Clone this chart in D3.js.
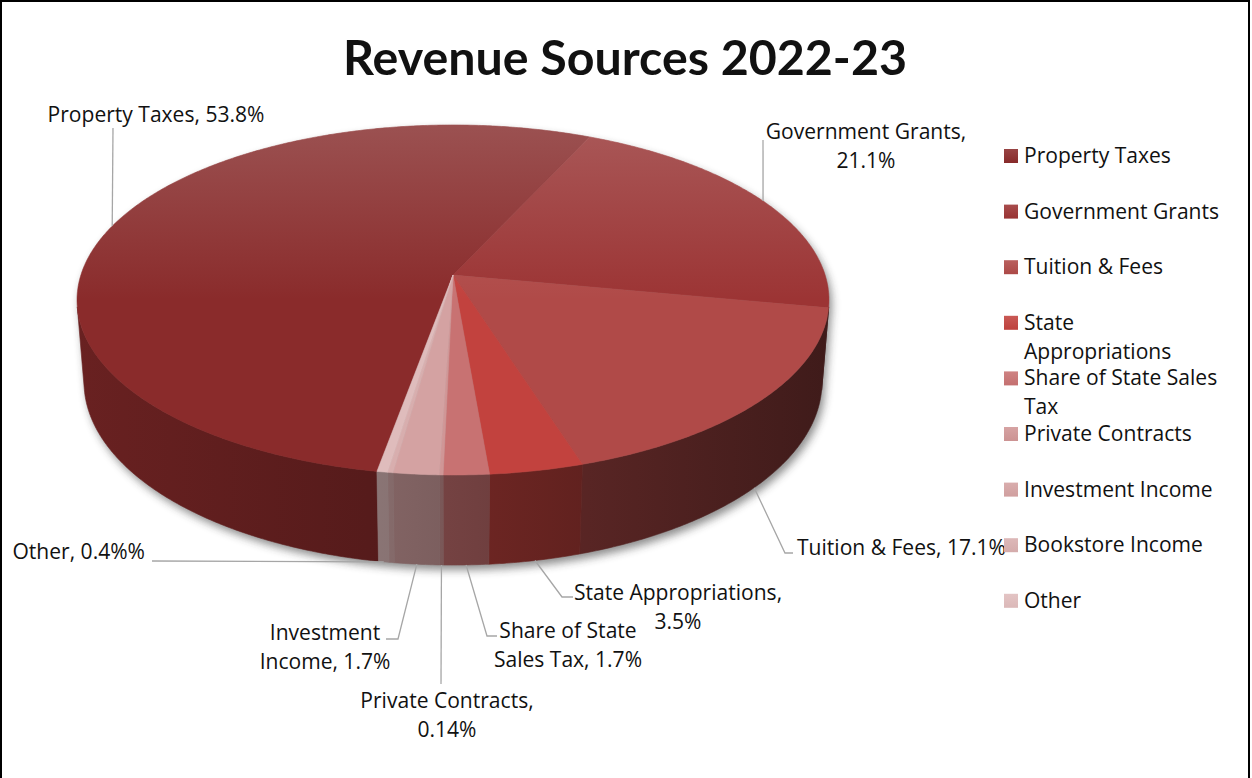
<!DOCTYPE html>
<html>
<head>
<meta charset="utf-8">
<script src="https://cdn.jsdelivr.net/npm/d3@7"></script>
<style>
  body { margin: 0; background: #fff; }
  svg { display: block; }
  text { font-family: "Open Sans", Lato, sans-serif; fill: #111; }
  text.title { font-family: Lato, "Open Sans", sans-serif; }
</style>
</head>
<body>
<svg id="chart" width="1252" height="778"></svg>
<script>
// ---- data ----
const categories = ["Property Taxes", "Government Grants", "Tuition & Fees", "State Appropriations",
  "Share of State Sales Tax", "Private Contracts", "Investment Income", "Bookstore Income", "Other"];
const shares = [53.8, 21.1, 17.1, 3.5, 1.7, 0.14, 1.7, 0.2, 0.4];
const labelTexts = [
  ["Property Taxes, 53.8%"],
  ["Government Grants,", "21.1%"],
  ["Tuition & Fees, 17.1%"],
  ["State Appropriations,", "3.5%"],
  ["Share of State", "Sales Tax, 1.7%"],
  ["Private Contracts,", "0.14%"],
  ["Investment", "Income, 1.7%"],
  null,
  ["Other, 0.4%%"]
];
const legendLines = [["Property Taxes"], ["Government Grants"], ["Tuition & Fees"], ["State", "Appropriations"],
  ["Share of State Sales", "Tax"], ["Private Contracts"], ["Investment Income"], ["Bookstore Income"], ["Other"]];
const titleText = "Revenue Sources 2022-23";

// ---- styles ----
const palette = ["#8a2b2b", "#9c3434", "#b04a48", "#c2423e", "#c87272", "#d09696", "#d4a2a2", "#d8aeae", "#dfbcbc"];

// label placement: text anchor, x, first baseline, leader path after the slice anchor
const labelLayout = [
  { anchor: "middle", x: 156, y: 122, path: [[113, 128]] },
  { anchor: "middle", x: 866, y: 139, path: [[763, 140]] },
  { anchor: "start",  x: 797, y: 555, path: [[785, 553], [793, 553]] },
  { anchor: "middle", x: 678, y: 600, path: [[562, 597], [573, 597]] },
  { anchor: "middle", x: 568, y: 638, path: [[487, 636], [497, 636]] },
  { anchor: "middle", x: 447, y: 708, path: [[441, 684]] },
  { anchor: "middle", x: 325, y: 640, path: [[398, 639], [386, 639]] },
  null,
  { anchor: "end",    x: 145, y: 559, path: [[152, 561]] }
];

const svg = d3.select("#chart");
const defs = svg.append("defs");

// body text size chosen so the longest one-line label spans 217px
const probe = svg.append("text").attr("font-size", 20).text(labelTexts[0][0]);
const FONT = 20 * 217 / probe.node().getComputedTextLength();
probe.remove();

// ---- 3D projection of a unit-radius disc seen from above at an angle ----
const cx = 453, cy = 275, FOCAL = 2312, DIST = 6.213;
const COS = 0.8876, SIN = 0.4607, THICK = 0.25;
function project(a, yw) {
  const x = Math.sin(a), z = -Math.cos(a);
  const depth = DIST - SIN * yw - COS * z;
  return [cx + FOCAL * x / depth, cy + FOCAL * (SIN * z - COS * yw) / depth];
}
function arcPts(a0, a1, yw) {
  const n = Math.max(2, Math.ceil(Math.abs(a1 - a0) / (Math.PI / 360)));
  return d3.range(n + 1).map(i => project(a0 + (a1 - a0) * i / n, yw));
}
const line = d3.line();

const total = d3.sum(shares);
const rot = 24.5 * Math.PI / 180 - shares[0] / total * 2 * Math.PI;
const arcs = d3.pie().sort(null).startAngle(rot).endAngle(rot + 2 * Math.PI)(shares);

// outer wall faces the viewer where cos(a) < -1/(DIST*COS)
const vis0 = Math.acos(-1 / (DIST * COS)), vis1 = 2 * Math.PI - vis0;
function visibleParts(s, e) {
  const out = [];
  for (const k of [-1, 0, 1]) {
    const a = Math.max(s, vis0 + 2 * Math.PI * k), b = Math.min(e, vis1 + 2 * Math.PI * k);
    if (b > a) out.push([a, b]);
  }
  return out;
}

function scaleColor(c, k) {
  const r = d3.rgb(c);
  return d3.rgb(r.r * k, r.g * k, r.b * k).formatHex();
}

// ---- gradients ----
palette.forEach((c, i) => {
  const g = defs.append("linearGradient").attr("id", "wall" + i)
    .attr("gradientUnits", "userSpaceOnUse").attr("x1", 77).attr("x2", 829).attr("y1", 0).attr("y2", 0);
  g.append("stop").attr("offset", 0).attr("stop-color", scaleColor(c, 0.76));
  g.append("stop").attr("offset", 0.45).attr("stop-color", scaleColor(c, 0.6));
  g.append("stop").attr("offset", 1).attr("stop-color", scaleColor(c, 0.36));
  const lg = defs.append("linearGradient").attr("id", "leg" + i).attr("x1", 0).attr("x2", 0).attr("y1", 0).attr("y2", 1);
  lg.append("stop").attr("offset", 0).attr("stop-color", d3.interpolateRgb(c, "#ffffff")(0.12));
  lg.append("stop").attr("offset", 1).attr("stop-color", d3.interpolateRgb(c, "#000000")(0.02));
});
const sheen = defs.append("linearGradient").attr("id", "sheen")
  .attr("gradientUnits", "userSpaceOnUse").attr("x1", 0).attr("x2", 0).attr("y1", 125).attr("y2", 300);
sheen.append("stop").attr("offset", 0).attr("stop-color", "#d8d8d8").attr("stop-opacity", 0.22);
sheen.append("stop").attr("offset", 1).attr("stop-color", "#d8d8d8").attr("stop-opacity", 0);
const blur = defs.append("filter").attr("id", "shadow").attr("x", "-10%").attr("y", "-10%").attr("width", "120%").attr("height", "130%");
blur.append("feGaussianBlur").attr("stdDeviation", 4);

// ---- shadow under the pie ----
const topRing = arcPts(0, 2 * Math.PI, 0);
const frontWall = arcPts(vis0, vis1, 0).concat(arcPts(vis1, vis0, -THICK));
const shadowG = svg.append("g").attr("filter", "url(#shadow)").attr("transform", "translate(3,5)").attr("opacity", 0.55);
shadowG.append("path").attr("d", line(topRing) + "Z").attr("fill", "#333");
shadowG.append("path").attr("d", line(frontWall) + "Z").attr("fill", "#333");

// ---- side walls ----
const wallG = svg.append("g");
arcs.forEach((d, i) => {
  visibleParts(d.startAngle, d.endAngle).forEach(([a, b]) => {
    const pts = arcPts(a, b, 0).concat(arcPts(b, a, -THICK));
    wallG.append("path").attr("d", line(pts) + "Z")
      .attr("fill", `url(#wall${i})`).attr("stroke", `url(#wall${i})`).attr("stroke-width", 0.6);
  });
});

// ---- top face ----
const topG = svg.append("g");
arcs.forEach((d, i) => {
  const pts = [[cx, cy]].concat(arcPts(d.startAngle, d.endAngle, 0));
  topG.append("path").attr("d", line(pts) + "Z")
    .attr("fill", palette[i]).attr("stroke", palette[i]).attr("stroke-width", 0.5).attr("stroke-linejoin", "round");
});
topG.append("path").attr("d", line(topRing) + "Z").attr("fill", "url(#sheen)");

// ---- data labels and leader lines ----
const labelG = svg.append("g");
arcs.forEach((d, i) => {
  const lay = labelLayout[i];
  if (!lay || !labelTexts[i]) return;
  const mid = (d.startAngle + d.endAngle) / 2;
  const onWall = visibleParts(mid, mid + 1e-6).length > 0;
  const start = project(mid, onWall ? -THICK : 0);
  labelG.append("path").attr("d", line([start].concat(lay.path)))
    .attr("fill", "none").attr("stroke", "#a6a6a6").attr("stroke-width", 1.3);
  const t = labelG.append("text").attr("text-anchor", lay.anchor).attr("font-size", FONT);
  labelTexts[i].forEach((s, j) => {
    t.append("tspan").attr("x", lay.x).attr("y", lay.y + j * 28.5).text(s);
  });
});

// ---- legend ----
const legG = svg.append("g");
categories.forEach((c, i) => {
  const base = 163 + 55.6 * i;
  legG.append("rect").attr("x", 1004).attr("y", base - 14).attr("width", 14).attr("height", 14)
    .attr("fill", `url(#leg${i})`);
  const t = legG.append("text").attr("font-size", FONT);
  legendLines[i].forEach((s, j) => {
    t.append("tspan").attr("x", 1024).attr("y", base + j * 29).text(s);
  });
});

// ---- title ----
const title = svg.append("text").attr("class", "title").attr("x", 625).attr("y", 75).attr("text-anchor", "middle")
  .attr("font-weight", 700).attr("font-size", 48).text(titleText);
const tw = title.node().getComputedTextLength();
title.attr("font-size", 48 * 564 / tw);

// ---- frame ----
svg.append("rect").attr("x", 1).attr("y", 1).attr("width", 1248).attr("height", 800)
  .attr("fill", "none").attr("stroke", "#000").attr("stroke-width", 2);
</script>
</body>
</html>
